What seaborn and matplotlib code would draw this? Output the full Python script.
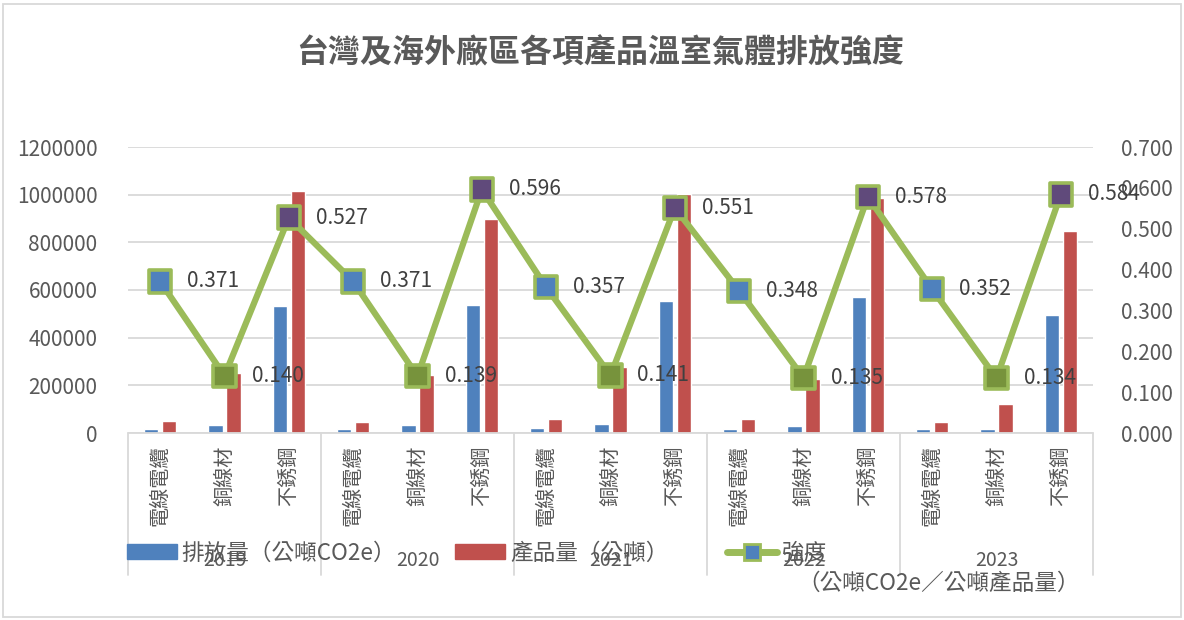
import seaborn as sns
import pandas as pd
import matplotlib.pyplot as plt
from matplotlib.patches import Patch, Rectangle
from matplotlib.lines import Line2D

# data
years = ['2019', '2020', '2021', '2022', '2023']
products = ['電線電纜', '銅線材', '不銹鋼']
emission = [18000, 33000, 534000,
            17000, 33000, 537000,
            22000, 38000, 553000,
            18000, 29000, 569000,
            17000, 17000, 495000]
output = [50000, 250000, 1015000,
          47000, 243000, 899000,
          60000, 276000, 1003000,
          57000, 227000, 985000,
          47000, 123000, 849000]
intensity = [0.371, 0.140, 0.527,
             0.371, 0.139, 0.596,
             0.357, 0.141, 0.551,
             0.348, 0.135, 0.578,
             0.352, 0.134, 0.584]

BLUE, RED, GREEN = '#4F81BD', '#C0504D', '#9BBB59'
marker_colors = {'電線電纜': '#4F81BD', '銅線材': '#77933C', '不銹鋼': '#604A7B'}
GREY = '#595959'

sns.set_theme(style='white')
plt.rcParams['font.family'] = ['Noto Sans CJK TC', 'DejaVu Sans']

keys = [f'{y}-{p}' for y in years for p in products]
prod_col = [p for y in years for p in products]
df = pd.DataFrame({'key': keys * 2,
                   'value': emission + output,
                   'series': ['排放量'] * len(keys) + ['產品量'] * len(keys)})
line_df = pd.DataFrame({'pos': range(len(keys)), 'intensity': intensity, 'product': prod_col})

W, H = 1184, 620
fig = plt.figure(figsize=(W / 100, H / 100), dpi=100)
x0, x1, ytop, ybot = 128, 1093, 147, 433
ax = fig.add_axes([x0 / W, 1 - ybot / H, (x1 - x0) / W, (ybot - ytop) / H])

sns.barplot(data=df, x='key', y='value', hue='series', order=keys,
            palette=[BLUE, RED], width=0.56, gap=0.22, ax=ax, legend=False,
            saturation=1)
ax.set_ylim(0, 1200000)
ax.set_xlim(-0.5, len(keys) - 0.5)
ax.set_yticks(range(0, 1200001, 200000))
ax.set_yticklabels([str(v) for v in range(0, 1200001, 200000)])
ax.grid(axis='y', color='#D9D9D9', lw=1.3)
ax.set_axisbelow(True)
for s in ax.spines.values():
    s.set_visible(False)
ax.axhline(0, color='#D9D9D9', lw=1.3, clip_on=False)
ax.set_xticks([])
ax.set_xlabel('')
ax.set_ylabel('')
ax.tick_params(axis='y', length=0, labelsize=15, labelcolor=GREY, pad=22)

ax2 = ax.twinx()
sns.lineplot(data=line_df, x='pos', y='intensity', color=GREEN, lw=4.5, ax=ax2,
             sort=False)
sns.scatterplot(data=line_df, x='pos', y='intensity', hue='product',
                palette=marker_colors, marker='s', s=260, edgecolor=GREEN,
                linewidth=2.6, ax=ax2, legend=False, zorder=5)
ax2.set_ylim(0, 0.7)
ax2.set_yticks([i / 10 for i in range(8)])
ax2.set_yticklabels([f'{i / 10:.3f}' for i in range(8)])
ax2.tick_params(axis='y', length=0, labelsize=15, labelcolor=GREY, pad=20)
for s in ax2.spines.values():
    s.set_visible(False)
ax2.set_xlabel('')
ax2.set_ylabel('')
ax2.grid(False)
for i, v in enumerate(intensity):
    ax2.annotate(f'{v:.3f}', (i, v), xytext=(27, 0), textcoords='offset pixels',
                 ha='left', va='center', fontsize=15, color='#404040', zorder=6)

# multi-level category axis
trans = ax.get_xaxis_transform()
axh = ybot - ytop
def ay(py):
    return (ybot - py) / axh

for b in [-0.5, 2.5, 5.5, 8.5, 11.5, 14.5]:
    ax.plot([b, b], [0, ay(575)], transform=trans, color='#D9D9D9', lw=1.3,
            clip_on=False)
for i, p in enumerate(prod_col):
    ax.text(i, ay(446), p, transform=trans, rotation=90, ha='center', va='top',
            fontsize=14.5, color=GREY)
for j, y in enumerate(years):
    ax.text(3 * j + 1, ay(561), y, transform=trans, ha='center', va='center',
            fontsize=14, color=GREY)

fig.text(600 / W, 1 - 53 / H, '台灣及海外廠區各項產品溫室氣體排放強度',
         ha='center', va='center', fontsize=23, fontweight='bold', color=GREY)

handles = [Patch(color=BLUE), Patch(color=RED),
           Line2D([], [], color=GREEN, lw=5, marker='s', markersize=11,
                  markerfacecolor=BLUE, markeredgecolor=GREEN, markeredgewidth=2)]
leg = fig.legend(handles, ['排放量（公噸CO2e）', '產品量（公噸）', '強度'],
                 loc='center left', bbox_to_anchor=(127 / W, 1 - 553 / H),
                 ncol=3, frameon=False, fontsize=16.3, handlelength=2.2,
                 handleheight=0.6, handletextpad=0.22, columnspacing=2.6,
                 borderpad=0, borderaxespad=0)
for t in leg.get_texts():
    t.set_color(GREY)
fig.text(797 / W, 1 - 583 / H, '（公噸CO2e／公噸產品量）', ha='left', va='center',
         fontsize=16.3, color=GREY)

fig.add_artist(Rectangle((3 / W, 3 / H), (W - 6) / W, (H - 7) / H,
                         transform=fig.transFigure, fill=False,
                         edgecolor='#D9D9D9', lw=1.3))

fig.savefig('out.png', dpi=100)
